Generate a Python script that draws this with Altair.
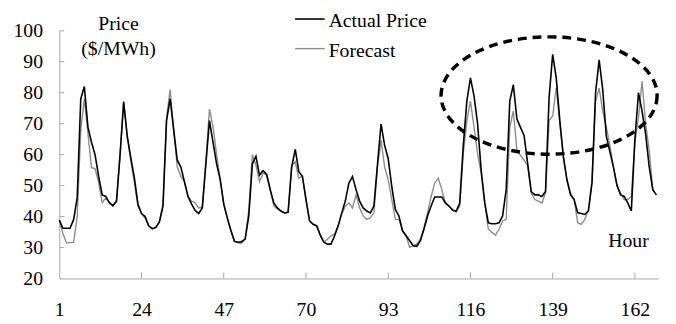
import altair as alt
import pandas as pd

hours = list(range(1, 169))

actual = [
    38.9, 36.2, 36.2, 36.2, 39.0, 46.0, 78.0, 82.0, 69.0, 64.0,
    60.0, 53.0, 47.0, 46.5, 44.5, 43.5, 45.0, 60.0, 77.0, 66.0,
    59.0, 52.5, 44.0, 41.0, 40.0, 37.0, 36.1, 36.5, 38.3, 43.4,
    71.0, 78.0, 68.0, 58.2, 56.0, 51.3, 46.5, 44.0, 42.0, 41.0,
    42.8, 57.0, 71.0, 64.0, 57.0, 52.0, 44.0, 39.5, 35.5, 32.0,
    31.7, 31.9, 32.7, 40.2, 57.0, 59.5, 53.4, 54.8, 53.6, 48.7,
    44.4, 42.8, 41.8, 41.2, 41.4, 56.0, 61.7, 54.5, 53.0, 45.5,
    38.6, 37.5, 37.0, 34.0, 31.7, 31.1, 31.1, 33.8, 37.0, 41.2,
    45.0, 50.8, 52.9, 48.7, 45.0, 42.8, 41.8, 41.2, 43.4, 57.0,
    69.9, 63.0, 58.7, 49.7, 42.3, 40.2, 35.4, 33.8, 32.2, 30.6,
    30.4, 32.2, 35.9, 40.2, 43.4, 46.3, 46.3, 46.3, 44.4, 43.4,
    42.1, 41.7, 44.4, 63.0, 77.3, 84.8, 79.0, 70.0, 55.0, 44.4,
    38.0, 37.7, 37.7, 38.0, 40.2, 48.7, 77.3, 82.6, 71.5, 68.8,
    66.2, 57.2, 48.1, 47.0, 47.0, 46.5, 48.1, 78.4, 92.4, 84.8,
    71.0, 59.3, 51.8, 47.0, 45.5, 41.2, 41.0, 40.7, 41.8, 50.8,
    80.0, 90.6, 81.0, 66.0, 61.0, 56.0, 50.0, 47.0, 46.5, 44.4,
    41.8, 65.0, 80.0, 74.1, 66.7, 56.1, 48.7, 47.0,
]

forecast = [
    38.9, 34.5, 31.5, 31.6, 31.7, 40.0, 68.0, 78.0, 67.0, 55.8,
    55.5, 51.0, 44.5, 46.0, 44.5, 43.5, 45.0, 60.0, 77.3, 66.0,
    58.0, 51.0, 43.5, 41.0, 39.5, 37.0, 36.0, 36.5, 38.3, 44.0,
    72.0, 81.0, 67.8, 56.0, 53.0, 51.3, 46.5, 45.0, 44.4, 42.8,
    43.0, 58.0, 74.7, 69.0, 60.0, 52.0, 44.0, 39.5, 35.5, 32.0,
    31.5, 31.4, 33.0, 42.0, 60.0, 56.6, 51.3, 54.0, 53.5, 48.7,
    43.4, 42.5, 41.8, 41.2, 41.4, 56.5, 57.7, 52.4, 53.0, 45.5,
    38.6, 37.5, 37.0, 34.0, 31.7, 32.7, 33.8, 34.3, 37.0, 40.7,
    43.4, 44.4, 42.8, 47.0, 42.8, 40.2, 39.1, 39.6, 41.2, 56.0,
    64.6, 56.0, 51.8, 45.5, 39.1, 39.1, 35.4, 33.8, 30.1, 30.6,
    31.1, 32.7, 36.5, 41.2, 46.5, 50.8, 52.4, 48.7, 44.4, 43.4,
    42.1, 41.5, 43.4, 60.3, 71.0, 77.3, 69.0, 60.3, 54.0, 44.4,
    35.9, 34.9, 34.0, 35.9, 38.6, 39.1, 68.8, 74.1, 61.4, 59.8,
    58.2, 56.6, 47.6, 45.5, 45.0, 44.4, 47.6, 71.0, 72.5, 81.6,
    70.0, 59.3, 51.8, 47.6, 45.5, 38.0, 37.5, 39.1, 42.3, 51.8,
    77.3, 81.5, 74.0, 69.0, 63.0, 56.0, 50.0, 47.6, 45.5, 45.5,
    46.5, 64.0, 72.0, 83.7, 70.0, 61.4, 48.7, 47.0,
]

x_ticks = [1, 24, 47, 70, 93, 116, 139, 162]
y_ticks = [20, 30, 40, 50, 60, 70, 80, 90, 100]
y_inner_ticks = [30, 40, 50, 60, 70, 80, 90, 100]
series_names = ["Actual Price", "Forecast"]
highlight_center = {"hour": [138.0], "value": [79.1]}

FONT = "Liberation Serif"
AXIS_GREY = "#a6a6a6"

df_act = pd.DataFrame({"hour": hours, "value": actual})
df_fc = pd.DataFrame({"hour": hours, "value": forecast})

xscale = alt.Scale(domain=[1, 168.5], nice=False, zero=False)
yscale = alt.Scale(domain=[20, 100], nice=False, zero=False)

x_axis = alt.Axis(values=x_ticks, title=None, labelPadding=22, tickSize=0,
                  ticks=False, grid=False, labelFlush=False, labelOverlap=False,
                  labelFont=FONT, labelFontSize=20, labelColor="black")
y_axis = alt.Axis(values=y_ticks, title=None, labelPadding=17, tickSize=0,
                  ticks=False, grid=False, labelOverlap=False, labelFlush=False,
                  labelFont=FONT, labelFontSize=20, labelColor="black")


def X():
    return alt.X("hour:Q", scale=xscale, axis=x_axis)


def Y():
    return alt.Y("value:Q", scale=yscale, axis=y_axis)


fc_line = alt.Chart(df_fc).mark_line(color="#8c8c8c", strokeWidth=1.4).encode(x=X(), y=Y())
act_line = alt.Chart(df_act).mark_line(color="black", strokeWidth=1.6).encode(x=X(), y=Y())

# inward tick marks
ytick_df = pd.DataFrame({"value": y_inner_ticks})
ytick = alt.Chart(ytick_df).mark_rule(color=AXIS_GREY, strokeWidth=1).encode(
    y=Y(), x=alt.value(0), x2=alt.value(5))
xtick_df = pd.DataFrame({"hour": x_ticks[1:]})
xtick = alt.Chart(xtick_df).mark_rule(color=AXIS_GREY, strokeWidth=1).encode(
    x=X(), y=alt.value(251), y2=alt.value(245))

# dashed ellipse highlight
k = 0.5523
ry = 0.543
ellipse_path = (
    f"M 1 0 C 1 {k*ry:.4f} {k:.4f} {ry} 0 {ry} "
    f"C {-k:.4f} {ry} -1 {k*ry:.4f} -1 0 "
    f"C -1 {-k*ry:.4f} {-k:.4f} {-ry} 0 {-ry} "
    f"C {k:.4f} {-ry} 1 {-k*ry:.4f} 1 0 Z"
)
ell = alt.Chart(pd.DataFrame(highlight_center)).mark_point(
    shape=ellipse_path, size=219 * 219, filled=False, stroke="black",
    strokeWidth=3.5, strokeDash=[9, 6], opacity=1
).encode(x=X(), y=Y())

# texts
txt_style = dict(font=FONT, fontSize=20, color="black")
price_t = alt.Chart(pd.DataFrame({"t": ["Price"]})).mark_text(
    align="center", baseline="alphabetic", **txt_style).encode(
    text="t:N", x=alt.value(60), y=alt.value(-1))
unit_t = alt.Chart(pd.DataFrame({"t": ["($/MWh)"]})).mark_text(
    align="center", baseline="alphabetic", **txt_style).encode(
    text="t:N", x=alt.value(60), y=alt.value(24))
hour_t = alt.Chart(pd.DataFrame({"t": ["Hour"]})).mark_text(
    align="center", baseline="alphabetic", **txt_style).encode(
    text="t:N", x=alt.value(577), y=alt.value(219))

# legend
leg_a_line = alt.Chart(pd.DataFrame({"s": [series_names[0]]})).mark_rule(
    color="black", strokeWidth=1.6).encode(x=alt.value(239), x2=alt.value(269), y=alt.value(-12))
leg_f_line = alt.Chart(pd.DataFrame({"s": [series_names[1]]})).mark_rule(
    color="#8c8c8c", strokeWidth=1.4).encode(x=alt.value(239), x2=alt.value(269), y=alt.value(18))
leg_a_t = alt.Chart(pd.DataFrame({"s": [series_names[0]]})).mark_text(
    align="left", baseline="alphabetic", **txt_style).encode(
    text="s:N", x=alt.value(273), y=alt.value(-4))
leg_f_t = alt.Chart(pd.DataFrame({"s": [series_names[1]]})).mark_text(
    align="left", baseline="alphabetic", **txt_style).encode(
    text="s:N", x=alt.value(273), y=alt.value(26))

chart = alt.layer(
    fc_line, act_line, ytick, xtick, ell,
    price_t, unit_t, hour_t, leg_a_line, leg_f_line, leg_a_t, leg_f_t
).properties(
    width=607, height=251,
    autosize=alt.AutoSizeParams(type="none"),
    padding={"left": 52, "top": 21, "right": 10, "bottom": 45},
).configure_view(stroke=None).configure_axis(
    domainColor=AXIS_GREY, domainWidth=1, labelFont=FONT, labelFontSize=20,
    labelColor="black", labelOverlap=False
)

chart.save("out.html", embed_options={"renderer": "svg", "actions": False})
